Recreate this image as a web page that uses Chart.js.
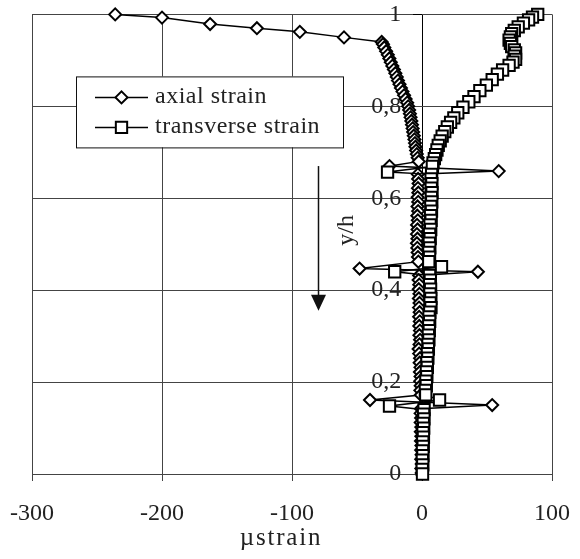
<!DOCTYPE html>
<html>
<head>
<meta charset="utf-8">
<script src="https://cdn.jsdelivr.net/npm/chart.js@4/dist/chart.umd.min.js"></script>
<style>
  html, body { margin: 0; padding: 0; background: #fff; }
</style>
</head>
<body>
<canvas id="c" width="580" height="559"></canvas>
<script>
// Strain profiles along the height: [µstrain, y/h]
const axialStrain = [
  [-236, 1.000], [-200, 0.993], [-163, 0.979], [-127, 0.970], [-94, 0.962], [-60, 0.950], [-31, 0.940],
  [-30.0, 0.935], [-29.0, 0.928], [-27.6, 0.920], [-26.3, 0.912], [-25.1, 0.904], [-24.0, 0.896],
  [-22.8, 0.888], [-21.6, 0.880], [-20.5, 0.872], [-19.4, 0.864], [-18.5, 0.856], [-17.3, 0.848],
  [-16.2, 0.840], [-15.0, 0.832], [-13.8, 0.824], [-12.6, 0.816], [-11.4, 0.808], [-10.6, 0.800],
  [-9.9, 0.792], [-9.3, 0.784], [-8.8, 0.776], [-8.2, 0.768], [-7.7, 0.760], [-7.2, 0.752],
  [-6.8, 0.744], [-6.3, 0.736], [-5.8, 0.728], [-5.4, 0.720], [-5.0, 0.712], [-4.5, 0.704],
  [-4.0, 0.696], [-3.3, 0.688], [-2.5, 0.680],
  [-25, 0.670], [59, 0.659],
  [-3.2, 0.652], [-3.0, 0.642], [-2.6, 0.632], [-3.1, 0.622], [-2.8, 0.612], [-3.3, 0.602],
  [-2.9, 0.592], [-3.4, 0.582], [-3.0, 0.572], [-3.6, 0.562], [-3.2, 0.552], [-3.8, 0.542],
  [-3.4, 0.532], [-3.9, 0.522], [-3.5, 0.512], [-3.9, 0.502], [-3.6, 0.492], [-3.3, 0.482],
  [-3.1, 0.472], [-2.8, 0.462],
  [-48, 0.447], [43, 0.440],
  [-2.2, 0.432], [-2.6, 0.422], [-2.1, 0.412], [-2.5, 0.402], [-2.0, 0.392], [-2.4, 0.382],
  [-1.9, 0.372], [-2.3, 0.362], [-1.8, 0.352], [-2.2, 0.342], [-1.7, 0.332], [-2.1, 0.322],
  [-1.6, 0.312], [-2.0, 0.302], [-1.5, 0.292], [-1.9, 0.282], [-2.6, 0.272], [-2.2, 0.262],
  [-1.5, 0.252], [-1.8, 0.242], [-1.2, 0.232], [-1.6, 0.222], [-1.1, 0.212], [-1.4, 0.202],
  [-1.0, 0.192], [-1.3, 0.182], [-0.9, 0.172],
  [-40, 0.161], [54, 0.150],
  [-0.8, 0.142], [-1.1, 0.132], [-0.7, 0.122], [-1.0, 0.112], [-0.6, 0.102], [-0.9, 0.092],
  [-0.5, 0.082], [-0.8, 0.072], [-0.4, 0.062], [-0.7, 0.052], [-0.3, 0.042], [-0.6, 0.032],
  [-0.2, 0.022], [-0.5, 0.012], [-0.2, 0.002]
];

const transverseStrain = [
  [89, 1.000], [85, 0.994], [82, 0.988], [78, 0.981], [74, 0.973], [71, 0.965], [69, 0.958],
  [68, 0.951], [67, 0.944], [68, 0.937], [69, 0.930], [71, 0.923], [72, 0.916], [71, 0.909],
  [72, 0.902], [70, 0.896], [67, 0.889], [62, 0.879], [58, 0.870], [54, 0.858], [49.5, 0.846],
  [44.5, 0.834], [40, 0.821], [36, 0.810], [31.5, 0.798], [27.5, 0.786], [24.5, 0.775],
  [22, 0.765], [19.5, 0.755], [17.5, 0.745], [15.5, 0.735], [14, 0.725], [12.5, 0.715],
  [11.5, 0.705], [10.5, 0.695], [9.5, 0.686], [8.5, 0.677], [8, 0.669],
  [-26.5, 0.657],
  [7.4, 0.652], [7.0, 0.642], [7.6, 0.632], [7.1, 0.622], [7.7, 0.612], [7.2, 0.602],
  [7.5, 0.592], [6.8, 0.582], [7.3, 0.572], [6.6, 0.562], [7.0, 0.552], [6.2, 0.542],
  [6.7, 0.532], [5.8, 0.522], [6.3, 0.512], [5.6, 0.502], [6.0, 0.492], [5.3, 0.482],
  [5.8, 0.472], [5.2, 0.462],
  [15, 0.451], [-21, 0.440],
  [5.8, 0.432], [6.4, 0.422], [5.9, 0.412], [6.6, 0.402], [6.1, 0.392], [6.8, 0.382],
  [6.2, 0.372], [6.9, 0.362], [6.0, 0.352], [5.4, 0.342], [5.9, 0.332], [5.2, 0.322],
  [5.6, 0.312], [4.9, 0.302], [5.3, 0.292], [4.6, 0.282], [4.9, 0.272], [4.2, 0.262],
  [4.5, 0.252], [3.8, 0.242], [4.1, 0.232], [3.4, 0.222], [3.7, 0.212], [3.0, 0.202],
  [3.3, 0.192], [2.6, 0.182], [2.9, 0.172],
  [13.5, 0.161], [-25, 0.148],
  [1.6, 0.140], [1.2, 0.130], [1.5, 0.120], [1.0, 0.110], [1.3, 0.100], [0.8, 0.090],
  [1.1, 0.080], [0.6, 0.070], [0.9, 0.060], [0.4, 0.050], [0.7, 0.040], [0.3, 0.030],
  [0.6, 0.020], [0.2, 0.010], [0.4, 0.000]
];

const seriesLabels = ['axial strain', 'transverse strain'];
const xTicks = [-300, -200, -100, 0, 100];
const yTicks = [0, 0.2, 0.4, 0.6, 0.8, 1];
const axisTitles = { x: 'µstrain', y: 'y/h' };
// loading direction arrow, from top to tip, in data units
const arrowFrom = [-80, 0.67];
const arrowTo = [-80, 0.355];

const FONT = '"Liberation Serif", "Times New Roman", serif';
const INK = '#222';
const GRID = '#444';
// the y labels sit just left of the x = 0 axis line
const Y_LABEL_ANCHOR = -16;

const toPoints = arr => arr.map(([x, y]) => ({ x, y }));

const markerStyles = [
  { pointStyle: 'rectRot', radius: 6 },
  { pointStyle: 'rect', radius: 8 }
];

// Boxed legend drawn inside the plot
const innerLegend = {
  id: 'innerLegend',
  afterDraw(chart) {
    const { ctx, chartArea } = chart;
    const left = chartArea.left + 44, top = chartArea.top + 62;
    const w = 267, h = 71;
    ctx.save();
    ctx.fillStyle = '#fff';
    ctx.fillRect(left, top, w, h);
    ctx.strokeStyle = '#111';
    ctx.lineWidth = 1;
    ctx.strokeRect(left + 0.5, top + 0.5, w, h);
    ctx.font = '24px ' + FONT;
    ctx.letterSpacing = '0.5px';
    ctx.textBaseline = 'middle';
    ctx.textAlign = 'left';
    chart.data.datasets.forEach((ds, i) => {
      const cy = top + 21 + i * 30;
      ctx.strokeStyle = '#000';
      ctx.lineWidth = 1.5;
      ctx.beginPath();
      ctx.moveTo(left + 19, cy);
      ctx.lineTo(left + 72, cy);
      ctx.stroke();
      ctx.fillStyle = '#fff';
      ctx.lineWidth = 2;
      Chart.helpers.drawPoint(ctx, {
        pointStyle: markerStyles[i].pointStyle,
        radius: markerStyles[i].radius,
        borderWidth: 2,
        rotation: 0
      }, left + 45.5, cy);
      ctx.fillStyle = INK;
      ctx.fillText(ds.label, left + 79, cy - 1);
    });
    ctx.restore();
  }
};

// Downward arrow, axis titles and the tick at the top of the axis
const annotations = {
  id: 'annotations',
  afterDraw(chart) {
    const { ctx, chartArea } = chart;
    const xs = chart.scales.x, ys = chart.scales.y;
    const ax = Math.round(xs.getPixelForValue(arrowFrom[0])) + 0.5;
    const ay1 = ys.getPixelForValue(arrowFrom[1]);
    const ay2 = ys.getPixelForValue(arrowTo[1]);
    ctx.save();
    ctx.strokeStyle = '#111';
    ctx.fillStyle = '#111';
    ctx.lineWidth = 1.5;
    ctx.beginPath();
    ctx.moveTo(ax, ay1);
    ctx.lineTo(ax, ay2 - 14);
    ctx.stroke();
    ctx.beginPath();
    ctx.moveTo(ax - 7.5, ay2 - 16);
    ctx.lineTo(ax + 7.5, ay2 - 16);
    ctx.lineTo(ax, ay2);
    ctx.closePath();
    ctx.fill();

    // short tick left of the axis at the top value
    const x0 = Math.round(xs.getPixelForValue(0));
    const yTop = Math.round(ys.getPixelForValue(yTicks[yTicks.length - 1])) + 0.5;
    ctx.strokeStyle = '#000';
    ctx.lineWidth = 1;
    ctx.beginPath();
    ctx.moveTo(x0 - 9, yTop);
    ctx.lineTo(x0, yTop);
    ctx.stroke();

    ctx.fillStyle = INK;

    // x title under the tick labels
    ctx.save();
    ctx.font = '25px ' + FONT;
    ctx.letterSpacing = '1.8px';
    ctx.textAlign = 'center';
    ctx.textBaseline = 'alphabetic';
    ctx.fillText(axisTitles.x, (chartArea.left + chartArea.right) / 2 - 11, chartArea.bottom + 71);
    ctx.restore();

    // y/h title, reading bottom to top, left of the tick labels
    ctx.font = '24px ' + FONT;
    const tx = xs.getPixelForValue(0) - 75;
    const ty = ys.getPixelForValue(0.53);
    ctx.translate(tx, ty);
    ctx.rotate(-Math.PI / 2);
    ctx.textAlign = 'center';
    ctx.textBaseline = 'middle';
    ctx.fillText(axisTitles.y, 0, 0);
    ctx.restore();
  }
};

const fmtY = v => {
  if (Math.abs(v) < 1e-9) return '0';
  if (Math.abs(v - 1) < 1e-9) return '1';
  return v.toFixed(1).replace('.', ',');
};

new Chart(document.getElementById('c'), {
  type: 'scatter',
  data: {
    datasets: [
      {
        label: seriesLabels[0],
        data: toPoints(axialStrain),
        showLine: true,
        borderColor: '#000',
        borderWidth: 1.5,
        pointStyle: markerStyles[0].pointStyle,
        pointRadius: markerStyles[0].radius,
        pointBorderWidth: 2,
        pointBorderColor: '#000',
        pointBackgroundColor: '#fff',
        clip: false,
        order: 2
      },
      {
        label: seriesLabels[1],
        data: toPoints(transverseStrain),
        showLine: true,
        borderColor: '#000',
        borderWidth: 1.5,
        pointStyle: markerStyles[1].pointStyle,
        pointRadius: markerStyles[1].radius,
        pointBorderWidth: 2,
        pointBorderColor: '#000',
        pointBackgroundColor: '#fff',
        clip: false,
        order: 1
      }
    ]
  },
  options: {
    responsive: false,
    animation: false,
    events: [],
    layout: { padding: { left: 32, right: 28, top: 4, bottom: 0 } },
    plugins: {
      legend: { display: false },
      tooltip: { enabled: false }
    },
    scales: {
      x: {
        type: 'linear',
        min: xTicks[0],
        max: xTicks[xTicks.length - 1],
        afterBuildTicks: s => { s.ticks = xTicks.map(v => ({ value: v })); },
        afterFit: s => {
          s.height = 85;
          // side margins come from the layout padding alone
          s.paddingLeft = 0;
          s.paddingRight = 0;
        },
        grid: {
          color: c => (c.tick && c.tick.value === 0 ? '#000' : GRID),
          lineWidth: 1,
          tickLength: 7,
          drawTicks: true
        },
        border: { display: true, color: GRID, width: 1 },
        ticks: {
          color: INK,
          font: { family: FONT, size: 24 },
          padding: 18,
          maxRotation: 0
        },
        title: { display: false }
      },
      y: {
        type: 'linear',
        position: { x: Y_LABEL_ANCHOR },
        min: yTicks[0],
        max: yTicks[yTicks.length - 1],
        afterBuildTicks: s => { s.ticks = yTicks.map(v => ({ value: v })); },
        grid: { color: GRID, lineWidth: 1, drawTicks: false },
        border: { display: false },
        ticks: {
          color: INK,
          font: { family: FONT, size: 24 },
          padding: 0,
          callback: v => fmtY(v)
        }
      }
    }
  },
  plugins: [innerLegend, annotations]
});
</script>
</body>
</html>
